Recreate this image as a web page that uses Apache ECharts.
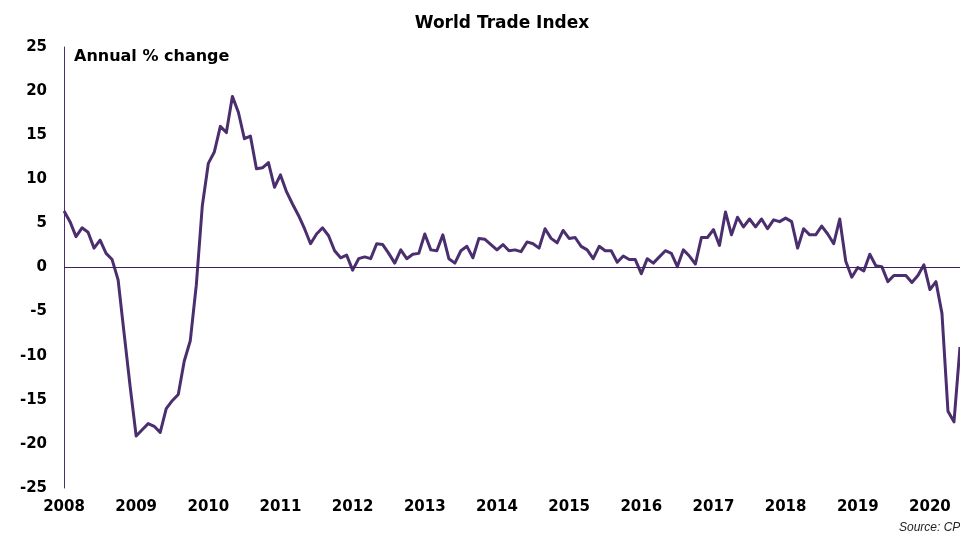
<!DOCTYPE html>
<html>
<head>
<meta charset="utf-8">
<script src="https://cdn.jsdelivr.net/npm/echarts@6/dist/echarts.min.js"></script>
<style>
html,body{margin:0;padding:0;background:#fff;}
#chart{width:960px;height:533px;}
</style>
</head>
<body>
<div id="chart"></div>
<script>
// Years covered (monthly data, Jan 2008 - Jun 2020)
const years = [2008,2009,2010,2011,2012,2013,2014,2015,2016,2017,2018,2019,2020];
const monthsLastYear = 6;

// Annual % change, monthly values
const v2008 = [6.4, 5.2, 3.5, 4.5, 4.0, 2.2, 3.1, 1.6, 0.9, -1.4, -7.5, -13.5];
const v2009 = [-19.1, -18.4, -17.7, -18.0, -18.7, -16.0, -15.1, -14.4, -10.6, -8.3, -2.0, 7.0];
const v2010 = [11.8, 13.1, 16.0, 15.3, 19.4, 17.6, 14.6, 14.9, 11.2, 11.3, 11.9, 9.1];
const v2011 = [10.5, 8.6, 7.2, 5.9, 4.4, 2.7, 3.8, 4.5, 3.6, 1.9, 1.1, 1.4];
const v2012 = [-0.3, 1.0, 1.2, 1.0, 2.7, 2.6, 1.6, 0.5, 2.0, 1.0, 1.5, 1.6];
const v2013 = [3.8, 2.0, 1.9, 3.7, 1.0, 0.5, 1.9, 2.4, 1.1, 3.3, 3.2, 2.6];
const v2014 = [2.0, 2.6, 1.9, 2.0, 1.8, 2.9, 2.7, 2.2, 4.4, 3.3, 2.8, 4.2];
const v2015 = [3.3, 3.4, 2.4, 2.0, 1.0, 2.4, 1.9, 1.9, 0.6, 1.3, 0.9, 0.9];
const v2016 = [-0.7, 1.0, 0.5, 1.2, 1.9, 1.6, 0.1, 2.0, 1.3, 0.4, 3.4, 3.4];
const v2017 = [4.3, 2.5, 6.3, 3.7, 5.7, 4.6, 5.5, 4.6, 5.5, 4.4, 5.4, 5.2];
const v2018 = [5.6, 5.2, 2.2, 4.4, 3.7, 3.7, 4.7, 3.8, 2.7, 5.5, 0.7, -1.1];
const v2019 = [0.0, -0.4, 1.5, 0.2, 0.1, -1.6, -0.9, -0.9, -0.9, -1.7, -0.9, 0.3];
const v2020 = [-2.5, -1.6, -5.2, -16.3, -17.5, -9.0];

const yTicks = [-25,-20,-15,-10,-5,0,5,10,15,20,25];

const values = [].concat(v2008,v2009,v2010,v2011,v2012,v2013,v2014,v2015,v2016,v2017,v2018,v2019,v2020);
const categories = [];
years.forEach(function(y, i){
  const n = (i === years.length - 1) ? monthsLastYear : 12;
  for (let m = 1; m <= n; m++) categories.push(y + '-' + (m < 10 ? '0' + m : m));
});

const purple = '#4b2e6e';
const font = 'DejaVu Sans';

const chart = echarts.init(document.getElementById('chart'), null, {renderer:'canvas'});
chart.setOption({
  animation: false,
  backgroundColor: '#ffffff',
  title: {
    text: 'World Trade Index',
    left: 497, top: 10, textAlign: 'center',
    textStyle: {fontFamily: font, fontWeight: 'bold', fontSize: 17, color: '#000'}
  },
  grid: {left: 64, right: 0, top: 47, bottom: 45, containLabel: false},
  xAxis: {
    type: 'category',
    data: categories,
    boundaryGap: false,
    axisLine: {show: false, onZero: false},
    axisTick: {show: false},
    splitLine: {show: false},
    axisLabel: {
      interval: 11,
      margin: 12,
      fontFamily: font, fontWeight: 'bold', fontSize: 15, color: '#000',
      formatter: function(v){ return v.slice(0,4); }
    }
  },
  yAxis: {
    type: 'value',
    min: yTicks[0], max: yTicks[yTicks.length-1], interval: 5,
    axisLine: {show: true, lineStyle: {color: purple, width: 1}},
    axisTick: {show: false},
    splitLine: {show: false},
    axisLabel: {margin: 17, fontFamily: font, fontWeight: 'bold', fontSize: 15, color: '#000'}
  },
  series: [{
    type: 'line',
    data: values,
    showSymbol: false,
    symbol: 'none',
    lineStyle: {color: purple, width: 3, join: 'round'},
    markLine: {
      silent: true,
      symbol: ['none','none'],
      label: {show: false},
      lineStyle: {color: '#3d2060', width: 1, type: 'solid'},
      data: [{yAxis: 0}]
    }
  }],
  graphic: [
    {type: 'text', left: 74, top: 49,
     style: {text: 'Annual % change', fontFamily: font, fontWeight: 'bold', fontSize: 16, fill: '#000'}},
    {type: 'text', left: 899, top: 522,
     style: {text: 'Source: CPB', fontFamily: 'Liberation Sans', fontStyle: 'italic', fontSize: 12, fill: '#222'}}
  ]
});
</script>
</body>
</html>
